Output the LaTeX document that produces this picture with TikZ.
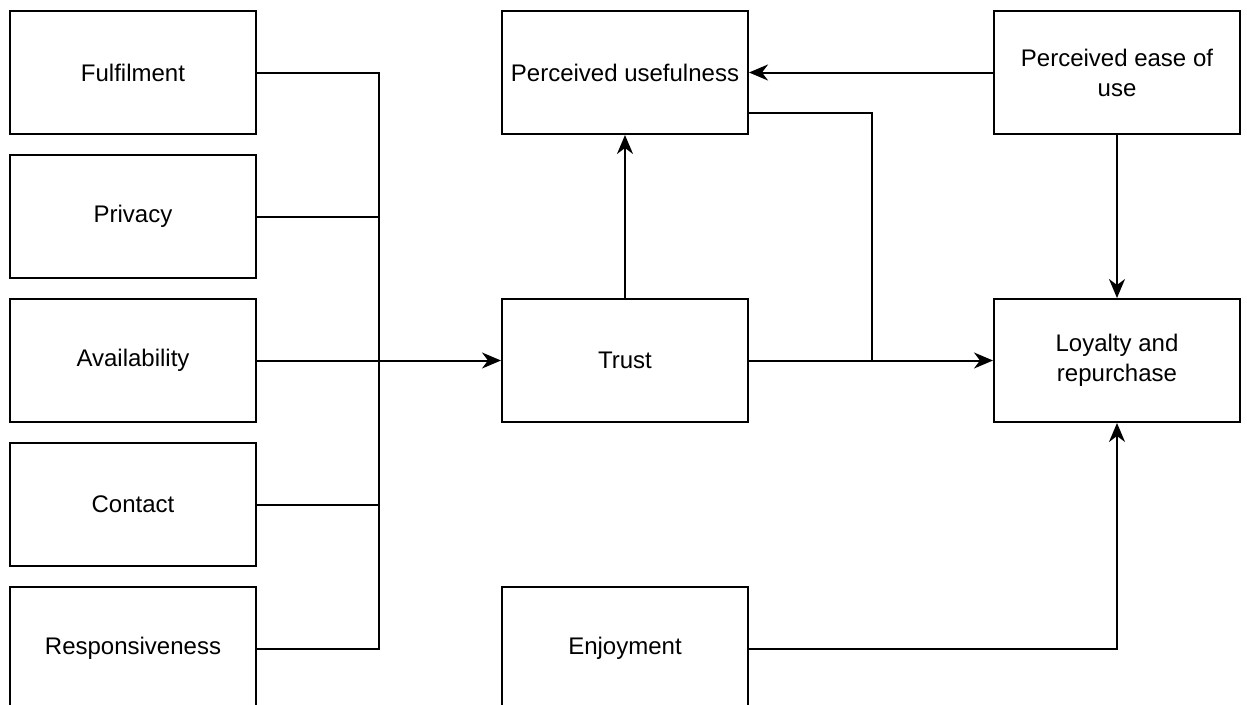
\documentclass[tikz,border=0pt]{standalone}
\usepackage{fontspec}
\setmainfont{Liberation Sans}
\usetikzlibrary{arrows.meta}
\begin{document}
\begin{tikzpicture}[x=1pt,y=-1pt,
  box/.style={draw=black,line width=2pt,rectangle,minimum width=246pt,minimum height=123pt,
    inner sep=0pt,align=center,font=\fontsize{24}{28}\selectfont},
  link/.style={line width=2pt},
  arr/.style={link,-{Stealth[length=19pt,width=16pt,inset=6pt]}}]
\useasboundingbox (0,0) rectangle (1247,704);
% left column of service-quality factors
\node[box] (ful)   at (133,72.5)  {Fulfilment};
\node[box] (priv)  at (133,216.5) {Privacy};
\node[box] (avail) at (133,360.5) {Availability};
\node[box] (cont)  at (133,504.5) {Contact};
\node[box] (resp)  at (133,648.5) {Responsiveness};
% middle and right columns
\node[box] (pu)    at (625,72.5)  {Perceived usefulness};
\node[box] (trust) at (625,360.5) {Trust};
\node[box] (enj)   at (625,648.5) {Enjoyment};
\node[box] (peu)   at (1117,72.5) {Perceived ease of\\[2pt]use};
\node[box] (loy)   at (1117,360.5) {Loyalty and\\[2pt]repurchase};
% collecting bus
\coordinate (bus) at (379,0);
\coordinate (join) at (872,360.5);
\draw[link] (ful.east) -| (resp.east -| bus) -- (resp.east);
\foreach \n in {priv,cont}
  \draw[link] (\n.east) -- (\n.east -| bus);
\draw[arr] (avail) -- (trust);
% remaining relations
\draw[arr] (trust) -- (pu);
\draw[arr] (peu) -- (pu);
\draw[arr] (peu) -- (loy);
\draw[arr] (trust) -- (loy);
\draw[link] ([yshift=-40.5pt]pu.east) -| (join);
\draw[arr] (enj.east) -| (loy.south);
\end{tikzpicture}
\end{document}
